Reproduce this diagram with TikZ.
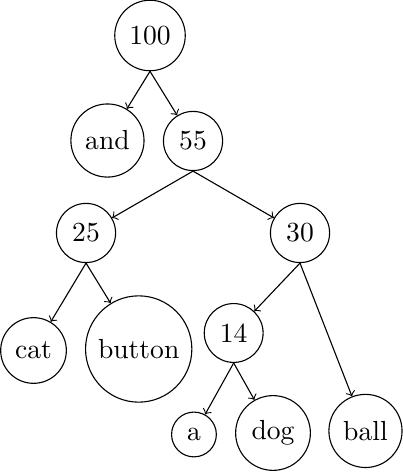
\documentclass[tikz,border=0pt]{standalone}
\begin{document}
\begin{tikzpicture}[every node/.style={circle, draw}]
\useasboundingbox (0,0) rectangle (5.134,-6.013);

\node (n100) at (1.911,-0.452) {100};
\node (nand) at (1.369,-1.790) {and};
\node (n55) at (2.459,-1.796) {55};
\node (n25) at (1.096,-2.968) {25};
\node (n30) at (3.822,-2.968) {30};
\node (ncat) at (0.427,-4.465) {cat};
\node (nbutton) at (1.767,-4.446) {button};
\node (n14) at (2.977,-4.242) {14};
\node (na) at (2.471,-5.535) {a};
\node (ndog) at (3.478,-5.516) {dog};
\node (nball) at (4.656,-5.490) {ball};

\foreach \p/\c in {n100/nand, n100/n55, n55/n25, n55/n30, n25/ncat, n25/nbutton, n30/n14, n30/nball, n14/na, n14/ndog}{
\draw[->] (\p.south) -- (\c);}
\end{tikzpicture}
\end{document}
